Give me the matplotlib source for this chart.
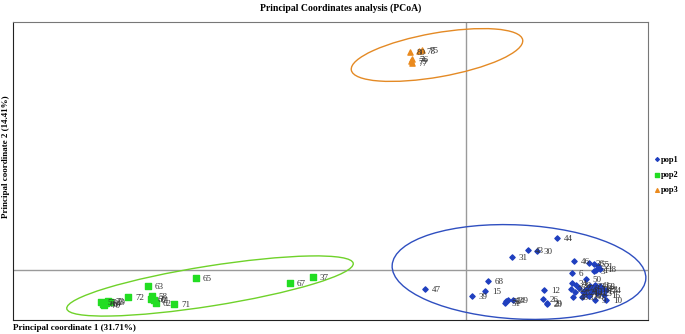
import matplotlib.pyplot as plt
from matplotlib.patches import Ellipse

plt.rcParams['font.family'] = ['Liberation Serif', 'DejaVu Serif']

# PCoA scores (coord 1, coord 2)
pop1_labels = ['44', '43', '30', '31', '46', '36', '55', '21', '1', '3', '18', '6', '50',
               '47', '68', '15', '39', '12', '52', '49', '42', '51', '26', '20', '29',
               '10', '9', '48', '16', '34', '38', '4', '8', '11', '13', '14', '17', '19',
               '22', '23', '24', '25', '27', '28', '32', '33', '40', '41', '53', '54']
pop1_x = [0.455, 0.31, 0.355, 0.23, 0.54, 0.615, 0.64, 0.66, 0.65, 0.64, 0.67, 0.53, 0.60,
          -0.205, 0.11, 0.095, 0.03, 0.39, 0.20, 0.235, 0.21, 0.195, 0.385, 0.405, 0.405,
          0.70, 0.645, 0.535, 0.69, 0.53, 0.55, 0.595, 0.61, 0.625, 0.64, 0.655, 0.67, 0.60,
          0.685, 0.62, 0.585, 0.655, 0.565, 0.545, 0.525, 0.58, 0.615, 0.645, 0.67, 0.70]
pop1_y = [0.16, 0.10, 0.095, 0.065, 0.045, 0.035, 0.03, 0.02, 0.0, -0.005, 0.005, -0.015, -0.045,
          -0.095, -0.055, -0.105, -0.13, -0.10, -0.155, -0.15, -0.15, -0.165, -0.145, -0.17, -0.165,
          -0.15, -0.15, -0.135, -0.125, -0.065, -0.075, -0.10, -0.09, -0.11, -0.095, -0.085, -0.105, -0.12,
          -0.095, -0.08, -0.11, -0.115, -0.09, -0.11, -0.095, -0.135, -0.13, -0.075, -0.08, -0.10]

pop2_labels = ['65', '37', '67', '63', '72', '58', '60', '61', '62', '71', '69', '64',
               '66', '57', '70', '73']
pop2_x = [-1.35, -0.765, -0.88, -1.59, -1.69, -1.57, -1.575, -1.56, -1.55, -1.46, -1.78, -1.80,
          -1.815, -1.825, -1.81, -1.79]
pop2_y = [-0.04, -0.035, -0.065, -0.08, -0.135, -0.13, -0.145, -0.15, -0.165, -0.17, -0.16, -0.165,
          -0.17, -0.16, -0.175, -0.155]

pop3_labels = ['80', '78', '75', '79', '76', '77']
pop3_x = [-0.28, -0.235, -0.22, -0.275, -0.27, -0.272]
pop3_y = [1.09, 1.095, 1.1, 1.045, 1.055, 1.035]

# confidence ellipses: centre, width, height, angle
ell_pop1 = (0.265, -0.01, 1.27, 0.47, -3)
ell_pop2 = (-1.28, -0.08, 1.45, 0.20, 9)
ell_pop3 = (-0.145, 1.075, 0.87, 0.22, 10)

fig = plt.figure(figsize=(6.85, 3.34), dpi=100)
ax = fig.add_axes([13 / 685, 1 - 320 / 334, (648 - 13) / 685, (320 - 22) / 334])

ax.axhline(0, color='#9a9a9a', lw=1, zorder=1)
ax.axvline(0, color='#9a9a9a', lw=1, zorder=1)

ax.scatter(pop1_x, pop1_y, marker='D', s=7, color='#1f3fbf', zorder=3, label='pop1')
ax.scatter(pop2_x, pop2_y, marker='s', s=14, color='#22dd22', zorder=3, label='pop2')
ax.scatter(pop3_x, pop3_y, marker='^', s=14, color='#ea8a1e', zorder=3, label='pop3')

for lab, x, y in zip(pop1_labels + pop2_labels + pop3_labels,
                     pop1_x + pop2_x + pop3_x, pop1_y + pop2_y + pop3_y):
    ax.annotate(lab, (x, y), xytext=(5, -1), textcoords='offset points',
                fontsize=6.5, color='#333333', va='center', ha='left', zorder=4)

for (cx, cy, w, h, a), col in [(ell_pop1, '#2f4fc0'), (ell_pop2, '#6fd22a'), (ell_pop3, '#e48a25')]:
    ax.add_patch(Ellipse((cx, cy), w, h, angle=a, fill=False, edgecolor=col, lw=1, zorder=2))

ax.set_xlim(-2.265, 0.91)
ax.set_ylim(-0.25, 1.24)
ax.set_xticks([])
ax.set_yticks([])
for side in ['left', 'bottom']:
    ax.spines[side].set_color('#222222')
for side in ['top', 'right']:
    ax.spines[side].set_color('#777777')

fig.text(0.497, 0.975, 'Principal Coordinates analysis (PCoA)', ha='center', va='center',
         fontsize=7, fontweight='bold')
fig.text(13 / 685, 1 - 328 / 334, 'Principal coordinate 1 (31.71%)', ha='left', va='center',
         fontsize=6.5, fontweight='bold')
fig.text(6 / 685, 1 - 157 / 334, 'Principal coordinate 2 (14.41%)', ha='center', va='center',
         rotation=90, fontsize=6.5, fontweight='bold')

fig.legend(loc='center left', bbox_to_anchor=(654 / 685, 1 - 175 / 334), frameon=False,
           borderpad=0, borderaxespad=0, handletextpad=0.2, handlelength=0.6,
           labelspacing=0.9, markerscale=0.7, prop={'weight': 'bold', 'size': 6})

fig.savefig('out.png', dpi=100)
